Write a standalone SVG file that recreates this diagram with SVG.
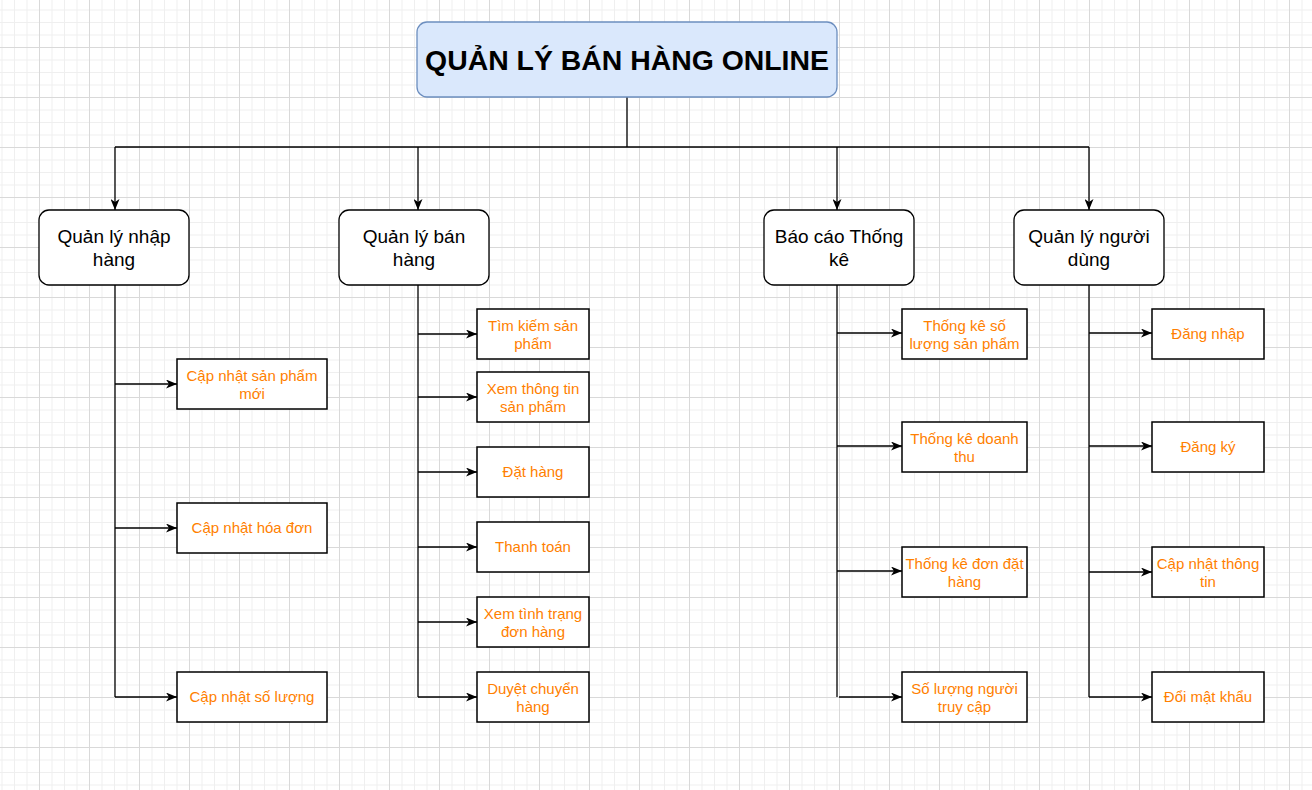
<svg xmlns="http://www.w3.org/2000/svg" width="1312" height="790" viewBox="0 0 1312 790">
<style>
.l1 { fill:#ffffff; stroke:#000000; stroke-width:1.3; }
.leaf { fill:#ffffff; stroke:#000000; stroke-width:1.5; }
.t1 { font-family:"Liberation Sans", Arial, sans-serif; font-size:19px; fill:#000000; text-anchor:middle; }
.tl { font-family:"Liberation Sans", Arial, sans-serif; font-size:15px; fill:#FF8000; text-anchor:middle; }
.title { font-family:"Liberation Sans", Arial, sans-serif; font-size:28.4px; font-weight:bold; fill:#000000; text-anchor:middle; }
.c { fill:none; stroke:#000000; stroke-width:1.3; }
.ca { fill:none; stroke:#000000; stroke-width:1.3; marker-end:url(#arr); }
</style>
<defs>
<pattern id="grid" patternUnits="userSpaceOnUse" x="39" y="-3" width="50" height="50">
<rect x="0" y="0" width="50" height="50" fill="#ffffff"/>
<rect x="12.5" y="0" width="1" height="50" fill="#efefef"/>
<rect x="25" y="0" width="1" height="50" fill="#efefef"/>
<rect x="37.5" y="0" width="1" height="50" fill="#efefef"/>
<rect x="0" y="12.5" width="50" height="1" fill="#efefef"/>
<rect x="0" y="25" width="50" height="1" fill="#efefef"/>
<rect x="0" y="37.5" width="50" height="1" fill="#efefef"/>
<rect x="0" y="0" width="1" height="50" fill="#d9d9d9"/>
<rect x="0" y="0" width="50" height="1" fill="#d9d9d9"/>
</pattern>
<marker id="arr" markerUnits="userSpaceOnUse" viewBox="0 0 11 9" markerWidth="11" markerHeight="9" refX="11" refY="4.5" orient="auto">
<path d="M0,0 L11,4.5 L0,9 L3,4.5 Z" fill="#000000"/>
</marker>
</defs>
<rect x="0" y="0" width="1312" height="790" fill="url(#grid)"/>

<g id="connectors">
<path class="c" d="M627,97 L627,147"/>
<path class="c" d="M115,147 L1089,147"/>
<path class="ca" d="M115,147 L115,210"/>
<path class="ca" d="M418,147 L418,210"/>
<path class="ca" d="M837,147 L837,210"/>
<path class="ca" d="M1089,147 L1089,210"/>

<path class="c" d="M115,285 L115,697"/>
<path class="ca" d="M115,384 L177,384"/>
<path class="ca" d="M115,528 L177,528"/>
<path class="ca" d="M115,697 L177,697"/>

<path class="c" d="M418,285 L418,697"/>
<path class="ca" d="M418,334 L477,334"/>
<path class="ca" d="M418,397 L477,397"/>
<path class="ca" d="M418,472 L477,472"/>
<path class="ca" d="M418,547 L477,547"/>
<path class="ca" d="M418,622 L477,622"/>
<path class="ca" d="M418,697 L477,697"/>

<path class="c" d="M837,285 L837,697"/>
<path class="ca" d="M837,333 L902,333"/>
<path class="ca" d="M837,446 L902,446"/>
<path class="ca" d="M837,571 L902,571"/>
<path class="ca" d="M839,697 L902,697"/>

<path class="c" d="M1089,285 L1089,697"/>
<path class="ca" d="M1089,333 L1152,333"/>
<path class="ca" d="M1089,446 L1152,446"/>
<path class="ca" d="M1089,572 L1152,572"/>
<path class="ca" d="M1089,697 L1152,697"/>
</g>

<g id="root">
<rect x="417" y="22" width="420" height="75" rx="10" ry="10" fill="#dae8fc" stroke="#6c8ebf" stroke-width="1.3"/>
<text class="title" x="627" y="69.5">QUẢN LÝ BÁN HÀNG ONLINE</text>
</g>

<g id="n-nhap-hang">
<rect class="l1" x="39" y="210" width="150" height="75" rx="10" ry="10"/>
<text class="t1" x="114" y="242.5">Quản lý nhập</text>
<text class="t1" x="114" y="265.5">hàng</text>
</g>
<g id="n-ban-hang">
<rect class="l1" x="339" y="210" width="150" height="75" rx="10" ry="10"/>
<text class="t1" x="414" y="242.5">Quản lý bán</text>
<text class="t1" x="414" y="265.5">hàng</text>
</g>
<g id="n-bao-cao">
<rect class="l1" x="764" y="210" width="150" height="75" rx="10" ry="10"/>
<text class="t1" x="839" y="242.5">Báo cáo Thống</text>
<text class="t1" x="839" y="265.5">kê</text>
</g>
<g id="n-nguoi-dung">
<rect class="l1" x="1014" y="210" width="150" height="75" rx="10" ry="10"/>
<text class="t1" x="1089" y="242.5">Quản lý người</text>
<text class="t1" x="1089" y="265.5">dùng</text>
</g>

<g id="leaf-cn-sp-moi">
<rect class="leaf" x="177" y="359" width="150" height="50"/>
<text class="tl" x="252" y="380.5">Cập nhật sản phẩm</text>
<text class="tl" x="252" y="399">mới</text>
</g>
<g id="leaf-cn-hoa-don">
<rect class="leaf" x="177" y="503" width="150" height="50"/>
<text class="tl" x="252" y="533.3">Cập nhật hóa đơn</text>
</g>
<g id="leaf-cn-so-luong">
<rect class="leaf" x="177" y="672" width="150" height="50"/>
<text class="tl" x="252" y="702.3">Cập nhật số lượng</text>
</g>

<g id="leaf-tim-kiem">
<rect class="leaf" x="477" y="309" width="112" height="50"/>
<text class="tl" x="533" y="330.5">Tìm kiếm sản</text>
<text class="tl" x="533" y="349">phẩm</text>
</g>
<g id="leaf-xem-thong-tin">
<rect class="leaf" x="477" y="372" width="112" height="50"/>
<text class="tl" x="533" y="393.5">Xem thông tin</text>
<text class="tl" x="533" y="412">sản phẩm</text>
</g>
<g id="leaf-dat-hang">
<rect class="leaf" x="477" y="447" width="112" height="50"/>
<text class="tl" x="533" y="477.3">Đặt hàng</text>
</g>
<g id="leaf-thanh-toan">
<rect class="leaf" x="477" y="522" width="112" height="50"/>
<text class="tl" x="533" y="552.3">Thanh toán</text>
</g>
<g id="leaf-tinh-trang">
<rect class="leaf" x="477" y="597" width="112" height="50"/>
<text class="tl" x="533" y="618.5">Xem tình trạng</text>
<text class="tl" x="533" y="637">đơn hàng</text>
</g>
<g id="leaf-duyet">
<rect class="leaf" x="477" y="672" width="112" height="50"/>
<text class="tl" x="533" y="693.5">Duyệt chuyển</text>
<text class="tl" x="533" y="712">hàng</text>
</g>

<g id="leaf-tk-sl-sp">
<rect class="leaf" x="902" y="309" width="125" height="50"/>
<text class="tl" x="964.5" y="330.5">Thống kê số</text>
<text class="tl" x="964.5" y="349">lượng sản phẩm</text>
</g>
<g id="leaf-tk-doanh-thu">
<rect class="leaf" x="902" y="422" width="125" height="50"/>
<text class="tl" x="964.5" y="443.5">Thống kê doanh</text>
<text class="tl" x="964.5" y="462">thu</text>
</g>
<g id="leaf-tk-don">
<rect class="leaf" x="902" y="547" width="125" height="50"/>
<text class="tl" x="964.5" y="568.5">Thống kê đơn đặt</text>
<text class="tl" x="964.5" y="587">hàng</text>
</g>
<g id="leaf-sl-truy-cap">
<rect class="leaf" x="902" y="672" width="125" height="50"/>
<text class="tl" x="964.5" y="693.5">Số lượng người</text>
<text class="tl" x="964.5" y="712">truy cập</text>
</g>

<g id="leaf-dang-nhap">
<rect class="leaf" x="1152" y="309" width="112" height="50"/>
<text class="tl" x="1208" y="339.3">Đăng nhập</text>
</g>
<g id="leaf-dang-ky">
<rect class="leaf" x="1152" y="422" width="112" height="50"/>
<text class="tl" x="1208" y="452.3">Đăng ký</text>
</g>
<g id="leaf-cn-thong-tin">
<rect class="leaf" x="1152" y="547" width="112" height="50"/>
<text class="tl" x="1208" y="568.5">Cập nhật thông</text>
<text class="tl" x="1208" y="587">tin</text>
</g>
<g id="leaf-doi-mk">
<rect class="leaf" x="1152" y="672" width="112" height="50"/>
<text class="tl" x="1208" y="702.3">Đổi mật khẩu</text>
</g>
</svg>
